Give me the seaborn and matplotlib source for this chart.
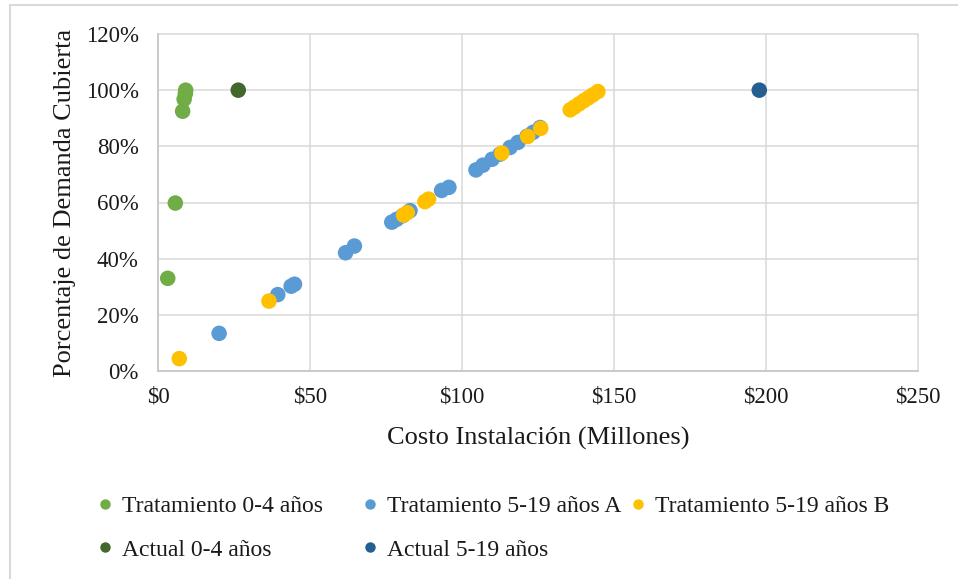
import matplotlib
matplotlib.use("Agg")
import matplotlib.pyplot as plt
from matplotlib.lines import Line2D
from matplotlib.ticker import FuncFormatter
import seaborn as sns
import pandas as pd

# Costo de instalación (millones) y porcentaje de demanda cubierta por escenario
trat_0_4_costo = [3.2, 5.7, 8.1, 8.6, 9.0, 9.1]
trat_0_4_pct = [33.0, 59.8, 92.5, 96.8, 98.8, 100.0]

trat_5_19_a_costo = [20.1, 39.4, 43.8, 44.9, 61.7, 64.6, 76.9, 78.5, 80.5, 82.9,
                     93.3, 95.7, 104.6, 106.9, 109.9, 112.5, 115.8, 118.4,
                     121.4, 123.4, 125.7]
trat_5_19_a_pct = [13.4, 27.2, 30.2, 30.9, 42.1, 44.5, 53.0, 54.0, 55.3, 57.1,
                   64.3, 65.4, 71.6, 73.3, 75.4, 77.2, 79.6, 81.4,
                   83.6, 85.0, 86.7]

trat_5_19_b_costo = [7.0, 36.5, 80.8, 82.0, 87.8, 89.0, 113.1, 121.6, 125.9,
                     135.6, 137.0, 138.5, 140.0, 141.5, 143.0, 144.7]
trat_5_19_b_pct = [4.4, 24.9, 55.5, 56.4, 60.3, 61.2, 77.6, 83.5, 86.4,
                   93.0, 94.0, 95.1, 96.2, 97.2, 98.3, 99.5]

actual_0_4_costo = [26.4]
actual_0_4_pct = [100.0]

actual_5_19_costo = [197.8]
actual_5_19_pct = [100.0]

series = ["Tratamiento 0-4 años", "Tratamiento 5-19 años A",
          "Tratamiento 5-19 años B", "Actual 0-4 años", "Actual 5-19 años"]
colors = ["#70AD47", "#5B9BD5", "#FFC000", "#43682B", "#255E91"]

x_ticks = [0, 50, 100, 150, 200, 250]
y_ticks = [0, 20, 40, 60, 80, 100, 120]

frames = []
for name, xs, ys in zip(series,
                        [trat_0_4_costo, trat_5_19_a_costo, trat_5_19_b_costo,
                         actual_0_4_costo, actual_5_19_costo],
                        [trat_0_4_pct, trat_5_19_a_pct, trat_5_19_b_pct,
                         actual_0_4_pct, actual_5_19_pct]):
    frames.append(pd.DataFrame({"costo": xs, "pct": ys, "serie": name}))
df = pd.concat(frames, ignore_index=True)

sns.set_theme(style="white")
plt.rcParams["font.family"] = ["Liberation Serif", "DejaVu Serif"]

W, H = 958, 579
fig = plt.figure(figsize=(W / 100, H / 100), dpi=100)
ax = fig.add_axes([158 / W, 1 - 371 / H, (918 - 158) / W, (371 - 34) / H])

palette = dict(zip(series, colors))
sns.scatterplot(data=df, x="costo", y="pct", hue="serie", hue_order=series,
                palette=palette, s=125, linewidth=0, alpha=1, ax=ax,
                legend=False, zorder=3)

ax.set_xlim(x_ticks[0], x_ticks[-1])
ax.set_ylim(y_ticks[0], y_ticks[-1])
ax.set_xticks(x_ticks)
ax.set_yticks(y_ticks)
ax.xaxis.set_major_formatter(FuncFormatter(lambda v, p: f"${v:.0f}"))
ax.yaxis.set_major_formatter(FuncFormatter(lambda v, p: f"{v:.0f}%"))
ax.grid(True, color="#d9d9d9", linewidth=1.1)
ax.set_axisbelow(True)
for gl in ax.get_xgridlines() + ax.get_ygridlines():
    gl.set_clip_on(False)
for side in ("top", "right"):
    ax.spines[side].set_visible(False)
for side in ("left", "bottom"):
    ax.spines[side].set_color("#c8c8c8")
    ax.spines[side].set_linewidth(1.3)
ax.tick_params(axis="both", length=0, labelsize=16.5, colors="#1a1a1a")
ax.tick_params(axis="y", pad=14)
ax.tick_params(axis="x", pad=11)

ax.set_xlabel("Costo Instalación (Millones)", fontsize=19, color="#1a1a1a",
              labelpad=14)
ax.set_ylabel("Porcentaje de Demanda Cubierta", fontsize=19, color="#1a1a1a",
              labelpad=7)

# Leyenda: tres columnas de igual ancho, dos filas
legend_cols = [[0, 3], [1, 4], [2]]
col_x = [98.5, 363.5, 631.5]
row1_y, row2_y = 506.5, 549.5
for idxs, x0 in zip(legend_cols, col_x):
    handles = [Line2D([], [], linestyle="none", marker="o", markersize=7.5,
                      markerfacecolor=colors[i], markeredgewidth=0)
               for i in idxs]
    labels = [series[i] for i in idxs]
    yc = (row1_y + row2_y) / 2 if len(idxs) == 2 else row1_y
    fig.legend(handles, labels, loc="center left",
               bbox_to_anchor=(x0 / W, 1 - yc / H), frameon=False,
               fontsize=17, handlelength=0.55, handletextpad=0.43,
               labelspacing=0.93, borderpad=0, borderaxespad=0,
               labelcolor="#1a1a1a")

# Marco exterior del gráfico
fig.add_artist(Line2D([10 / W, 10 / W], [0, 1 - 5 / H],
                      transform=fig.transFigure, color="#d9d9d9", linewidth=1.5))
fig.add_artist(Line2D([10 / W, 1], [1 - 5 / H, 1 - 5 / H],
                      transform=fig.transFigure, color="#d9d9d9", linewidth=1.5))

fig.savefig("out.png", dpi=100)
